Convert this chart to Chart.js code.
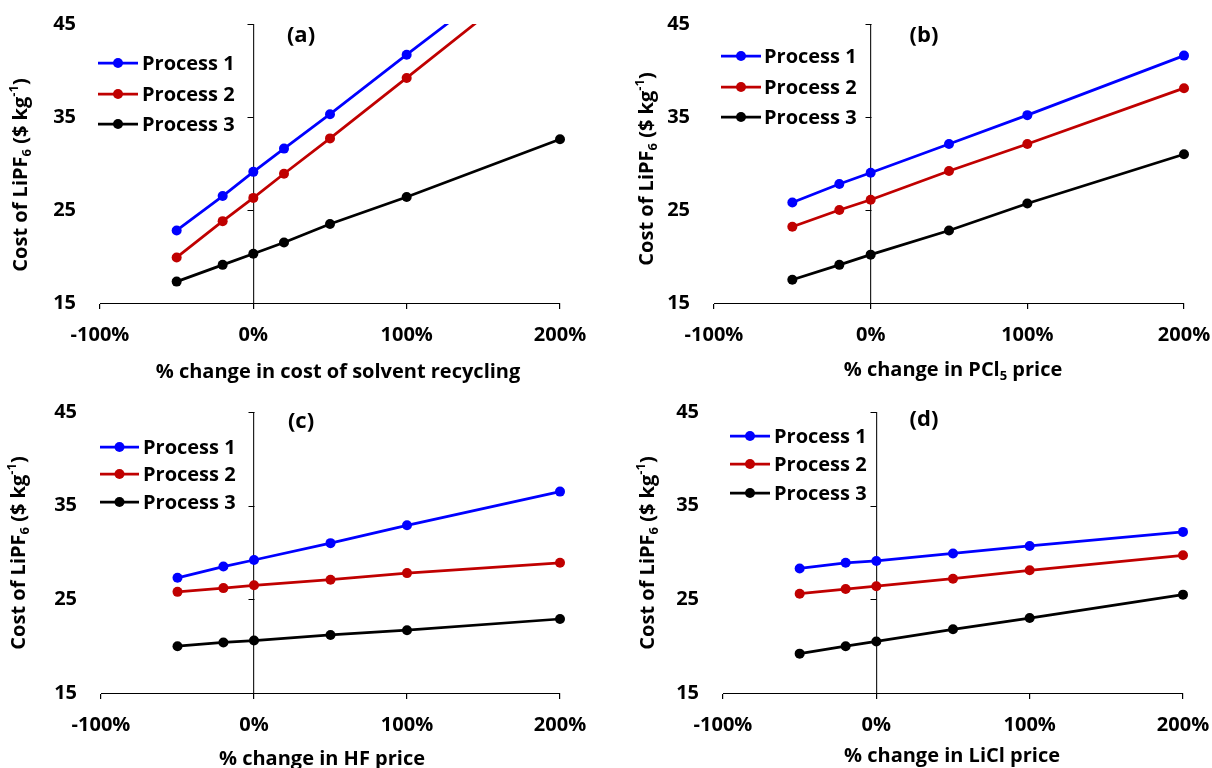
<!DOCTYPE html>
<html>
<head>
<meta charset="utf-8">
<title>LiPF6 cost sensitivity</title>
<script src="https://cdn.jsdelivr.net/npm/chart.js@4.4.1/dist/chart.umd.min.js"></script>
<style>
  html, body { margin: 0; padding: 0; background: #fff; }
  #wrap { position: relative; width: 1212px; height: 768px; overflow: hidden; }
  #wrap canvas { position: absolute; }
</style>
</head>
<body>
<div id="wrap">
  <canvas id="chartA" width="606" height="384" style="left:0;top:0"></canvas>
  <canvas id="chartB" width="606" height="384" style="left:606px;top:0"></canvas>
  <canvas id="chartC" width="606" height="384" style="left:0;top:384px"></canvas>
  <canvas id="chartD" width="606" height="384" style="left:606px;top:384px"></canvas>
</div>
<script>
// x values (% change)
const xA = [-50, -20, 0, 20, 50, 100, 200];
const xOther = [-50, -20, 0, 50, 100, 200];

// (a) cost of solvent recycling
const aProcess1 = [22.8, 26.5, 29.1, 31.6, 35.3, 41.7, 54.3];
const aProcess2 = [19.9, 23.8, 26.3, 28.9, 32.7, 39.2, 52.3];
const aProcess3 = [17.3, 19.1, 20.3, 21.5, 23.5, 26.4, 32.6];

// (b) PCl5 price
const bProcess1 = [25.8, 27.8, 29.0, 32.1, 35.2, 41.6];
const bProcess2 = [23.2, 25.0, 26.1, 29.2, 32.1, 38.1];
const bProcess3 = [17.5, 19.1, 20.2, 22.8, 25.7, 31.0];

// (c) HF price
const cProcess1 = [27.3, 28.5, 29.2, 31.0, 32.9, 36.5];
const cProcess2 = [25.8, 26.2, 26.5, 27.1, 27.8, 28.9];
const cProcess3 = [20.0, 20.4, 20.6, 21.2, 21.7, 22.9];

// (d) LiCl price
const dProcess1 = [28.3, 28.9, 29.1, 29.9, 30.7, 32.2];
const dProcess2 = [25.6, 26.1, 26.4, 27.2, 28.1, 29.7];
const dProcess3 = [19.2, 20.0, 20.5, 21.8, 23.0, 25.5];

const seriesNames = ['Process 1', 'Process 2', 'Process 3'];
const seriesColors = ['#0000FF', '#C00000', '#000000'];
const xTicks = [-100, 0, 100, 200];
const yTicks = [15, 25, 35, 45];

const FONT = '"Open Sans", "Noto Sans", sans-serif';
Chart.defaults.font.family = FONT;
Chart.defaults.color = '#000';

function drawRich(ctx, parts, cx, cy) {
  const big = 'bold 20px ' + FONT;
  const small = 'bold 13px ' + FONT;
  const widths = parts.map(p => {
    ctx.font = p.s ? small : big;
    return ctx.measureText(p.t).width;
  });
  let px = cx - widths.reduce((a, b) => a + b, 0) / 2;
  ctx.textAlign = 'left';
  ctx.textBaseline = 'middle';
  parts.forEach((p, i) => {
    ctx.font = p.s ? small : big;
    const dy = p.s === 'sub' ? 6 : p.s === 'sup' ? -7 : 0;
    ctx.fillText(p.t, px, cy + dy);
    px += widths[i];
  });
}

const yTitleParts = [
  { t: 'Cost of LiPF' }, { t: '6', s: 'sub' }, { t: ' ($ kg' }, { t: '-1', s: 'sup' }, { t: ')' }
];

function makeDecor(cfg) {
  return {
    id: 'decor',
    afterDraw(chart) {
      const ctx = chart.ctx;
      const xs = chart.scales.x;
      const ys = chart.scales.y;
      ctx.save();

      // tick marks on the vertical axis through 0%
      const x0 = Math.round(xs.getPixelForValue(0)) + 0.5;
      ctx.strokeStyle = '#000';
      ctx.lineWidth = 1;
      ys.ticks.forEach(t => {
        const py = Math.round(ys.getPixelForValue(t.value)) + 0.5;
        ctx.beginPath();
        ctx.moveTo(x0 - 6, py);
        ctx.lineTo(x0, py);
        ctx.stroke();
      });

      // legend
      chart.data.datasets.forEach((ds, i) => {
        const ly = cfg.legendRows[i];
        ctx.strokeStyle = ds.borderColor;
        ctx.lineWidth = 2.75;
        ctx.beginPath();
        ctx.moveTo(cfg.legendLine[0], ly);
        ctx.lineTo(cfg.legendLine[1], ly);
        ctx.stroke();
        ctx.fillStyle = ds.borderColor;
        ctx.beginPath();
        ctx.arc((cfg.legendLine[0] + cfg.legendLine[1]) / 2, ly, 5, 0, Math.PI * 2);
        ctx.fill();
        ctx.fillStyle = '#000';
        ctx.font = 'bold 20px ' + FONT;
        ctx.textAlign = 'left';
        ctx.textBaseline = 'middle';
        ctx.fillText(ds.label, cfg.legendText, ly + 1);
      });

      // panel letter
      ctx.fillStyle = '#000';
      ctx.font = 'bold 22px ' + FONT;
      ctx.textAlign = 'center';
      ctx.textBaseline = 'middle';
      ctx.fillText(cfg.letter, cfg.letterPos[0], cfg.letterPos[1]);

      // x title
      drawRich(ctx, cfg.xTitle, cfg.xTitlePos[0], cfg.xTitlePos[1]);

      // y title
      ctx.save();
      ctx.translate(cfg.yTitlePos[0], cfg.yTitlePos[1]);
      ctx.rotate(-Math.PI / 2);
      drawRich(ctx, yTitleParts, 0, 0);
      ctx.restore();

      ctx.restore();
    }
  };
}

function makeChart(id, xs, series, cfg) {
  const datasets = series.map((vals, i) => ({
    label: seriesNames[i],
    data: xs.map((x, j) => ({ x: x, y: vals[j] })),
    borderColor: seriesColors[i],
    backgroundColor: seriesColors[i],
    borderWidth: 2.75,
    pointRadius: 5,
    pointBorderWidth: 0,
    pointBackgroundColor: seriesColors[i],
    tension: 0,
    clip: { left: 10, right: 10, top: 0, bottom: 10 }
  }));

  new Chart(document.getElementById(id), {
    type: 'line',
    data: { datasets },
    options: {
      responsive: false,
      animation: false,
      events: [],
      layout: { padding: { top: cfg.area.top, right: 606 - cfg.area.right, left: 0, bottom: 0 } },
      plugins: { legend: { display: false }, tooltip: { enabled: false } },
      scales: {
        x: {
          type: 'linear',
          min: xTicks[0],
          max: xTicks[xTicks.length - 1],
          afterBuildTicks: s => { s.ticks = xTicks.map(v => ({ value: v })); },
          afterFit: s => {
            s.height = 384 - cfg.area.bottom;
            s.paddingLeft = 0;
            s.paddingRight = 0;
          },
          ticks: {
            callback: v => v + '%',
            color: '#000',
            font: { size: 20, weight: 'bold' },
            padding: 14,
            maxRotation: 0
          },
          grid: {
            color: c => (c.tick && c.tick.value === 0 ? '#222' : 'rgba(0,0,0,0)'),
            tickColor: '#000',
            tickLength: 6,
            lineWidth: 1.2
          },
          border: { color: '#000', width: 1 }
        },
        y: {
          min: yTicks[0],
          max: yTicks[yTicks.length - 1],
          afterBuildTicks: s => { s.ticks = yTicks.map(v => ({ value: v })); },
          afterFit: s => {
            s.width = cfg.area.left;
            s.paddingTop = 0;
            s.paddingBottom = 0;
          },
          ticks: {
            color: '#000',
            font: { size: 20, weight: 'bold' },
            padding: 24
          },
          grid: { display: false, drawTicks: false },
          border: { display: false }
        }
      }
    },
    plugins: [makeDecor(cfg)]
  });
}

makeChart('chartA', xA, [aProcess1, aProcess2, aProcess3], {
  area: { left: 100, right: 560, top: 24, bottom: 303 },
  letter: '(a)', letterPos: [301, 36],
  legendLine: [98, 138], legendText: 142, legendRows: [63, 94, 124],
  xTitle: [{ t: '% change in cost of solvent recycling' }], xTitlePos: [338, 372],
  yTitlePos: [21, 175]
});

makeChart('chartB', xOther, [bProcess1, bProcess2, bProcess3], {
  area: { left: 108, right: 578, top: 24, bottom: 303 },
  letter: '(b)', letterPos: [318, 36],
  legendLine: [115, 155], legendText: 158, legendRows: [56, 87, 117],
  xTitle: [{ t: '% change in PCl' }, { t: '5', s: 'sub' }, { t: ' price' }], xTitlePos: [347, 370],
  yTitlePos: [41, 169]
});

makeChart('chartC', xOther, [cProcess1, cProcess2, cProcess3], {
  area: { left: 101, right: 560, top: 28, bottom: 309 },
  letter: '(c)', letterPos: [301, 38],
  legendLine: [100, 139], legendText: 143, legendRows: [63, 90, 118],
  xTitle: [{ t: '% change in HF price' }], xTitlePos: [322, 375],
  yTitlePos: [19, 169]
});

makeChart('chartD', xOther, [dProcess1, dProcess2, dProcess3], {
  area: { left: 117, right: 577, top: 28, bottom: 309 },
  letter: '(d)', letterPos: [318, 36],
  legendLine: [124, 164], legendText: 168, legendRows: [52, 80, 109],
  xTitle: [{ t: '% change in LiCl price' }], xTitlePos: [346, 372],
  yTitlePos: [42, 169]
});
</script>
</body>
</html>
